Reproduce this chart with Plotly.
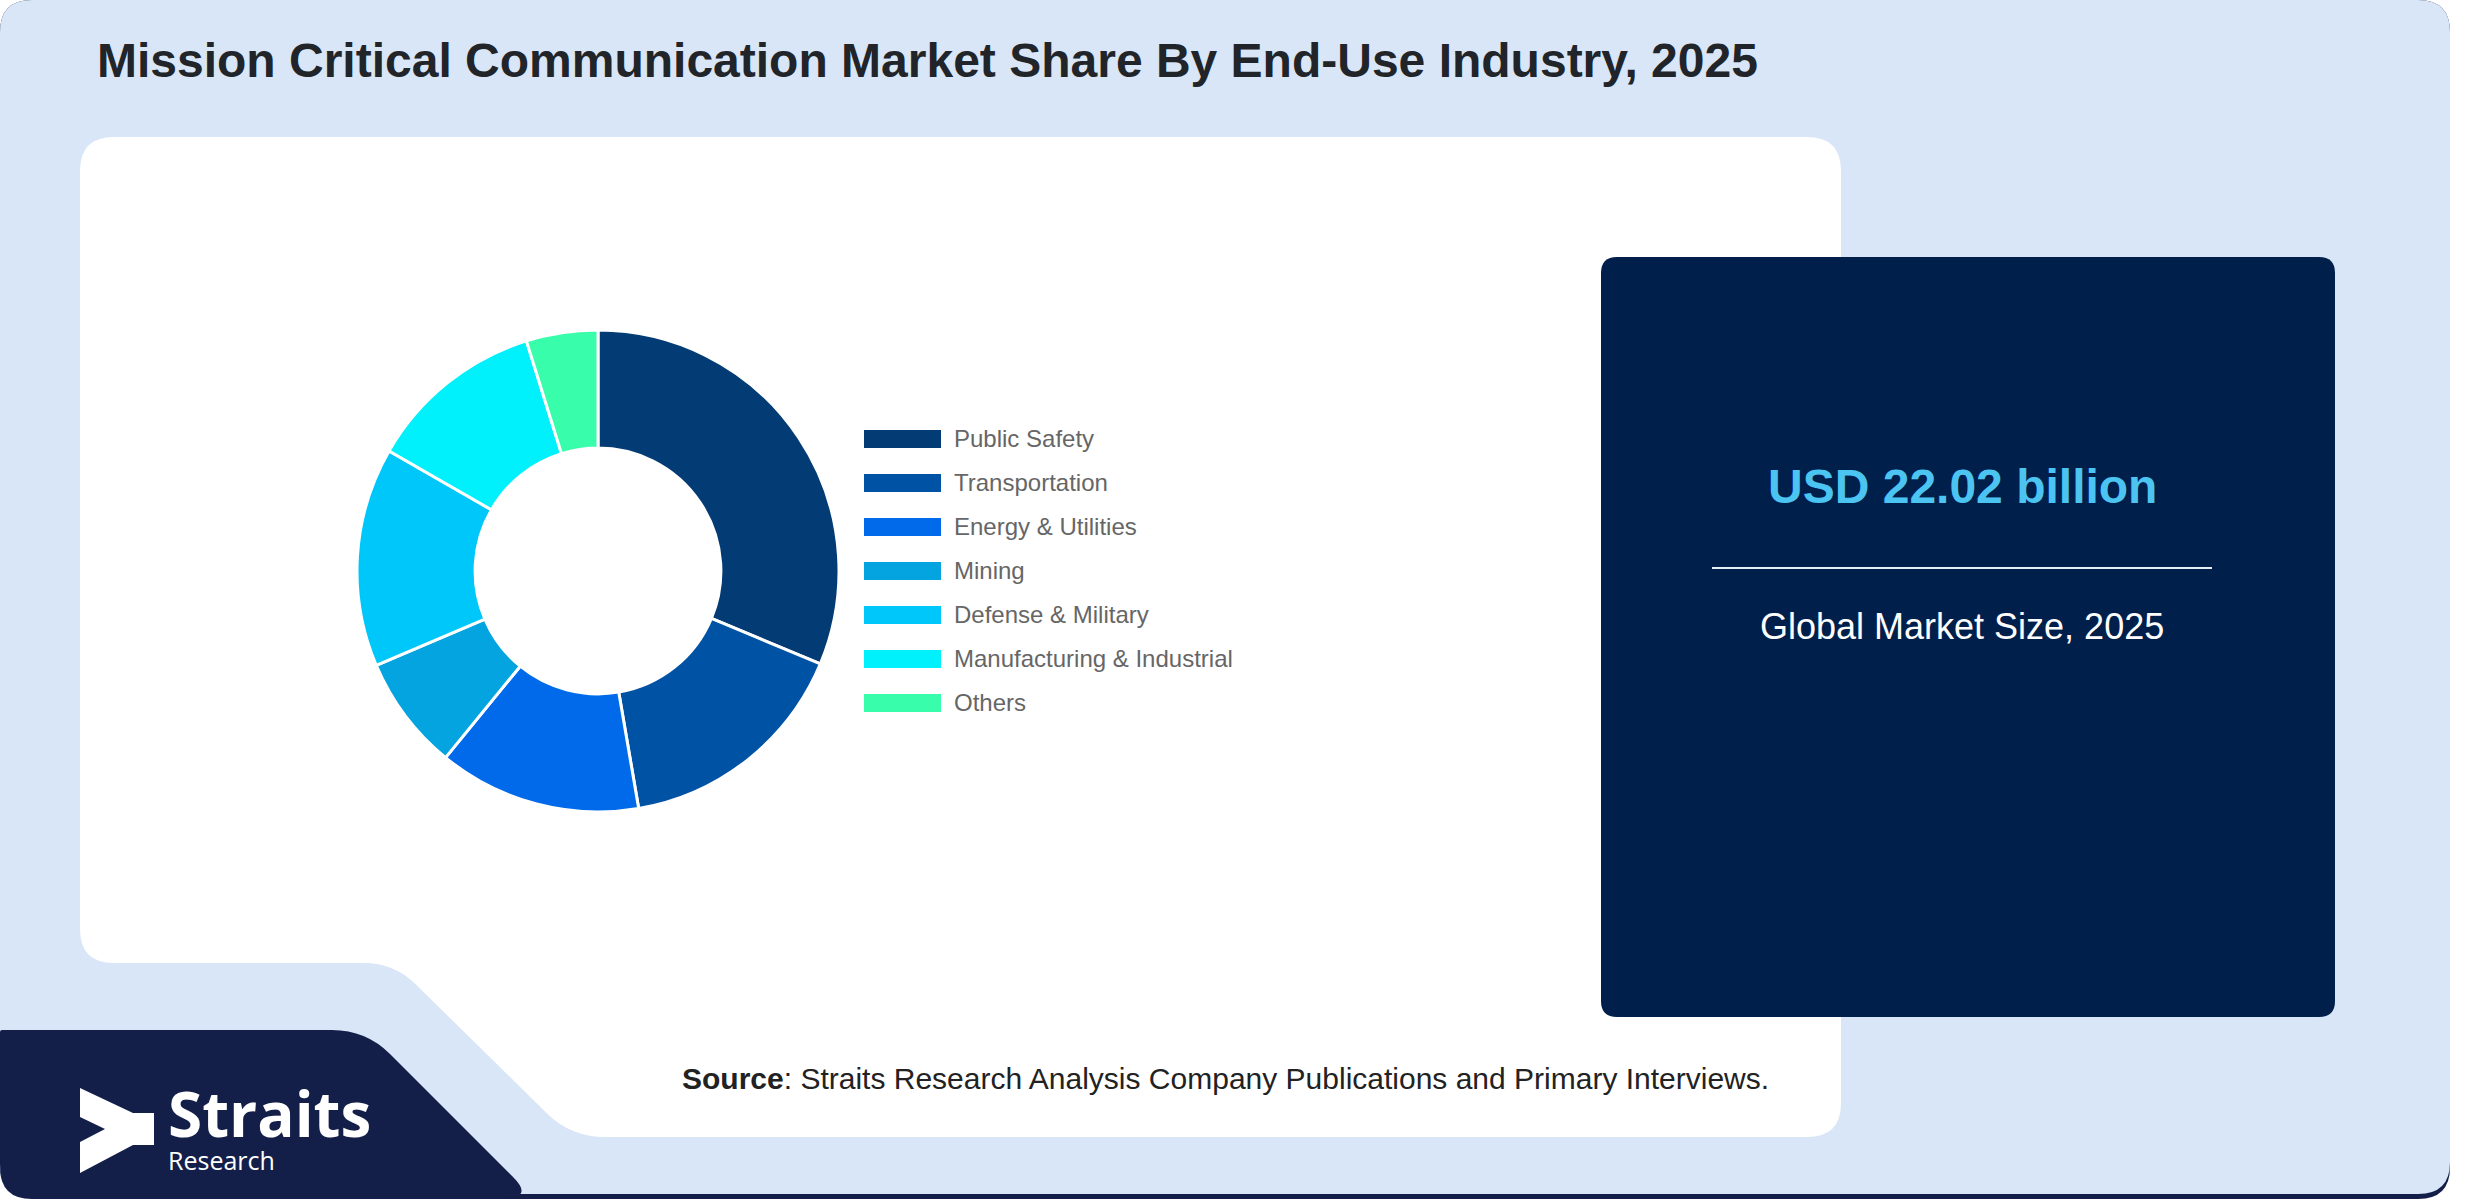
"""Mission Critical Communication market share by end-use industry (donut)."""

import plotly.graph_objects as go

# 数据
industries = ["Public Safety", "Transportation", "Energy & Utilities", "Mining",
              "Defense & Military", "Manufacturing & Industrial", "Others"]
shares = [31.3, 16.0, 13.6, 7.7, 14.7, 11.9, 4.8]
seg_colors = ["#033B74", "#0052A4", "#006AEA", "#03A4DF",
              "#00C7FA", "#00F1FB", "#38FDAA"]

title_text = "Mission Critical Communication Market Share By End-Use Industry, 2025"
market_size = "USD 22.02 billion"
market_label = "Global Market Size, 2025"
source_text = "<b>Source</b>: Straits Research Analysis Company Publications and Primary Interviews."

W, H = 2480, 1200
FONT = "Liberation Sans, Arial, sans-serif"
LIGHT = "#D9E6F8"
NAVY = "#011F4B"
LOGO_NAVY = "#131F49"


def rounded_poly(pts, r):
    """SVG path of a closed polygon with rounded corners (pixel coords)."""
    n = len(pts)
    segs = []
    for i in range(n):
        px, py = pts[i - 1]
        cx, cy = pts[i]
        nx_, ny_ = pts[(i + 1) % n]
        rr = r[i] if isinstance(r, (list, tuple)) else r
        d1 = ((cx - px) ** 2 + (cy - py) ** 2) ** 0.5
        d2 = ((nx_ - cx) ** 2 + (ny_ - cy) ** 2) ** 0.5
        a = (cx + (px - cx) * rr / d1, cy + (py - cy) * rr / d1)
        b = (cx + (nx_ - cx) * rr / d2, cy + (ny_ - cy) * rr / d2)
        segs.append(("M" if i == 0 else "L") + f"{a[0]:.1f},{a[1]:.1f}")
        segs.append(f"Q{cx},{cy} {b[0]:.1f},{b[1]:.1f}")
    return " ".join(segs) + " Z"


def rect_path(x0, y0, x1, y1, r):
    return rounded_poly([(x0, y0), (x1, y0), (x1, y1), (x0, y1)], r)


shapes = [
    # 背景面板 + 底部阴影
    dict(type="path", path=rect_path(0, 0, 2450, 1199, 32), fillcolor=LOGO_NAVY,
         line=dict(width=0), layer="below"),
    dict(type="path", path=rect_path(0, 0, 2450, 1194, 32), fillcolor=LIGHT,
         line=dict(width=0), layer="below"),
    # 白色卡片（左下缺口）
    dict(type="path",
         path=rounded_poly([(80, 137), (1841, 137), (1841, 1137), (571, 1137),
                            (394, 963), (80, 963)], [34, 34, 34, 34, 30, 34]),
         fillcolor="white", line=dict(width=0), layer="below"),
    # logo 区域
    dict(type="path",
         path=rounded_poly([(0, 1030), (366, 1030), (534, 1198), (0, 1198)],
                           [2, 34, 30, 34]),
         fillcolor=LOGO_NAVY, line=dict(width=0), layer="below"),
    # logo 箭头
    dict(type="path",
         path="M80,1088 L133,1113 L154,1113 L154,1145 L133,1145 L80,1173 "
              "L80,1142 L105,1129 L80,1117 Z",
         fillcolor="white", line=dict(width=0), layer="below"),
    # 右侧市场规模卡片
    dict(type="path", path=rect_path(1601, 257, 2335, 1017, 16), fillcolor=NAVY,
         line=dict(width=0), layer="below"),
    dict(type="line", x0=1712, x1=2212, y0=568, y1=568,
         line=dict(color="#E8EEF6", width=2), layer="below"),
]

annotations = [
    dict(x=95, y=60, text=f"<b>{title_text}</b>", xanchor="left", yanchor="middle",
         font=dict(family=FONT, size=48, color="#212529")),
    dict(x=1962, y=486, text=f"<b>{market_size}</b>", xanchor="center", yanchor="middle",
         font=dict(family=FONT, size=48, color="#4CC4F2")),
    dict(x=1962, y=626, text=market_label, xanchor="center", yanchor="middle",
         font=dict(family=FONT, size=36, color="white")),
    dict(x=1225, y=1078, text=source_text, xanchor="center", yanchor="middle",
         font=dict(family=FONT, size=30, color="#222222")),
    # logo 文字（两行放在同一个注释里）
    dict(x=166, y=1069, xanchor="left", yanchor="top", align="left",
         text="<span style='font-size:62px'><b>Straits</b></span><br>Research",
         font=dict(family="Open Sans, sans-serif", size=25, color="white")),
]

# 自定义图例：宽色块 + 灰色文字
for i, (name, col) in enumerate(zip(industries, seg_colors)):
    yc = 439 + 44 * i
    shapes.append(dict(type="rect", x0=864, x1=941, y0=yc - 9, y1=yc + 9,
                       fillcolor=col, line=dict(width=0)))
    annotations.append(dict(x=952, y=yc - 1, text=name, xanchor="left", yanchor="middle",
                            font=dict(family=FONT, size=24, color="#666666")))

for a in annotations:
    a.update(xref="x", yref="y", showarrow=False)
for s in shapes:
    s.update(xref="x", yref="y")

# 环形图区域（像素 -> paper）
cx, cy, rad = 598, 571, 241
fig = go.Figure(go.Pie(
    labels=industries, values=shares, hole=0.51, sort=False,
    direction="clockwise", rotation=0,
    marker=dict(colors=seg_colors, line=dict(color="white", width=3)),
    textinfo="none", hoverinfo="label+percent", showlegend=False,
    domain=dict(x=[(cx - rad) / W, (cx + rad) / W],
                y=[1 - (cy + rad) / H, 1 - (cy - rad) / H]),
))

fig.update_layout(
    width=W, height=H,
    margin=dict(l=0, r=0, t=0, b=0),
    paper_bgcolor="white", plot_bgcolor="rgba(0,0,0,0)",
    xaxis=dict(range=[0, W], visible=False, fixedrange=True, domain=[0, 1]),
    yaxis=dict(range=[H, 0], visible=False, fixedrange=True, domain=[0, 1]),
    shapes=shapes, annotations=annotations,
    showlegend=False,
)

fig.write_html("out.html", config={"displayModeBar": False},
               post_script="document.body.style.margin='0px';")
